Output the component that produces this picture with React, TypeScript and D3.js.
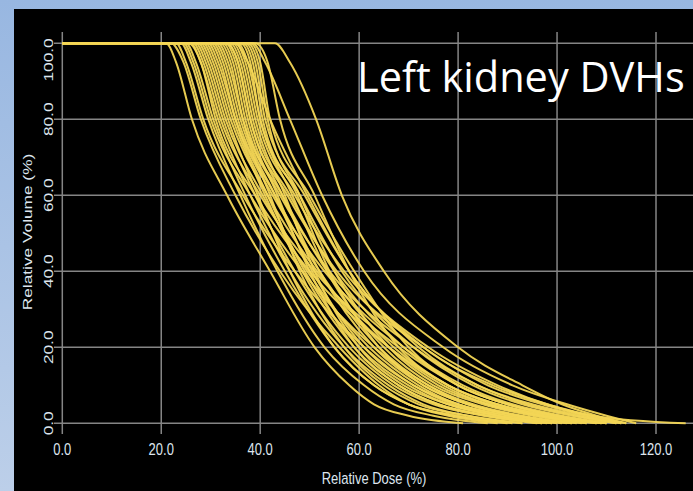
import { useMemo } from 'react';
import * as d3 from 'd3';

// Volume levels (%) at which each DVH curve's dose (%) was read
const VOLUME_LEVELS = [100, 95, 80, 60, 40, 20, 10, 5, 2, 0];

// One row per patient: relative dose (%) at each volume level above
const DOSE_CURVES: number[][] = [
  [21, 23, 26.2, 33.3, 42, 51, 58, 63, 70, 81],
  [22, 24.5, 28, 35, 44, 56, 64, 70, 78, 88],
  [23, 25, 28.5, 36.5, 47, 61, 71, 79, 88, 98],
  [24, 26, 29.5, 36, 43.5, 53, 61, 67, 75, 86],
  [24.5, 26.5, 30, 38, 48.5, 63, 74, 82, 92, 102],
  [25, 27, 30.5, 37, 45, 55, 63, 70, 79, 90],
  [25.5, 28, 31, 39, 50, 66, 78, 87, 97, 106],
  [26, 28, 31.5, 38, 46, 57, 66, 73, 82, 93],
  [26.5, 28.5, 32, 40, 51, 68, 80, 90, 100, 109],
  [27, 29, 32.5, 39, 47, 58, 67, 75, 85, 96],
  [27.5, 29.5, 33, 40.5, 49.5, 62, 72, 80, 90, 100],
  [28, 30, 33.5, 39.5, 46, 55, 63, 70, 80, 91],
  [28.5, 30.5, 34, 41.5, 51.5, 66, 77, 86, 96, 105],
  [29, 31, 34.5, 41, 48.5, 59, 68, 76, 86, 97],
  [29.5, 31.5, 35, 42.5, 53, 69, 81, 91, 101, 110],
  [30, 32, 35, 41.5, 49, 60, 70, 78, 88, 99],
  [30.5, 32.5, 35.5, 43, 52, 64, 74, 83, 93, 103],
  [31, 33, 36, 42, 48, 57, 65, 72, 82, 93],
  [31.5, 33.5, 36.5, 44, 54, 71, 84, 94, 104, 112],
  [32, 34, 36.5, 43, 50.5, 61, 71, 80, 90, 101],
  [32.5, 34.5, 37, 44.5, 53.5, 67, 78, 88, 98, 108],
  [33, 35, 37.5, 43.5, 50, 59, 68, 76, 86, 97],
  [33, 35.5, 38, 45.5, 55.5, 73, 86, 97, 106, 113],
  [33.5, 35.5, 38, 44.5, 52, 63, 73, 82, 92, 103],
  [34, 36, 38.5, 46, 55, 69, 80, 90, 100, 110],
  [34.5, 36.5, 39, 45, 51, 60, 69, 78, 88, 99],
  [35, 37, 39.5, 47, 57, 74, 88, 98, 107, 126],
  [35.5, 37.5, 40, 46.5, 53.5, 65, 75, 85, 95, 106],
  [36, 38, 40, 48, 56.5, 71, 83, 93, 103, 112],
  [36.5, 38.5, 40.5, 47.5, 54, 64, 73, 82, 92, 104],
  [37, 39, 41, 49, 58, 72, 84, 95, 105, 113],
  [37.5, 39.5, 41.5, 48, 55, 66, 76, 86, 97, 108],
  [38, 40, 42, 50, 59, 70, 80, 90, 100, 110],
  [39, 41.5, 44, 51, 58, 68, 78, 88, 99, 109],
  [35, 37.5, 42, 49.5, 58, 73, 87, 98, 107, 114],
  [38.5, 41, 46, 52.5, 61, 77, 91, 102, 110, 116],
  [43, 46, 51.3, 56.5, 65, 80, 93, 101, 108, 114],
];

const X_TICKS = [0, 20, 40, 60, 80, 100, 120];
const Y_TICKS = [0, 20, 40, 60, 80, 100];

const W = 693;
const H = 491;
const LINE_COLOR = '#f3d655';
const GRID_COLOR = '#858585';
const LABEL_COLOR = '#dde5ee';
const STRETCH = 1.33; // the source screenshot is stretched vertically

export default function App() {
  const x = d3.scaleLinear().domain([0, 120]).range([62.3, 656]);
  const y = d3.scaleLinear().domain([0, 100]).range([423.3, 43.3]);

  const line = d3.line<[number, number]>()
    .x(d => x(d[0]))
    .y(d => y(d[1]))
    .curve(d3.curveMonotoneX);

  const paths = useMemo(() =>
    DOSE_CURVES.map(doses => {
      const pts: [number, number][] = [[0, 100], ...doses.map((d, i) => [d, VOLUME_LEVELS[i]] as [number, number])];
      return line(pts) ?? '';
    }), []);

  const gridTop = 32;
  const gridBottom = 434;
  const gridLeft = 54;

  return (
    <svg width={W} height={H} style={{ position: 'fixed', top: 0, left: 0, display: 'block' }}
      fontFamily="'Liberation Sans', Arial, sans-serif">
      <defs>
        <linearGradient id="frame" x1="0" y1="0" x2="0" y2="1">
          <stop offset="0" stopColor="#98b7e1" />
          <stop offset="1" stopColor="#bccfe9" />
        </linearGradient>
      </defs>
      <rect x={0} y={0} width={W} height={H} fill="url(#frame)" />
      <rect x={14} y={9} width={W - 14} height={H - 9} fill="#000" />

      {/* grid */}
      {X_TICKS.map(t => (
        <line key={'gx' + t} x1={x(t)} x2={x(t)} y1={gridTop} y2={gridBottom}
          stroke={GRID_COLOR} strokeWidth={1.5} />
      ))}
      {Y_TICKS.map(t => (
        <line key={'gy' + t} x1={gridLeft} x2={W} y1={y(t)} y2={y(t)}
          stroke={GRID_COLOR} strokeWidth={1.5} />
      ))}

      {/* DVH curves */}
      <g fill="none" stroke={LINE_COLOR} strokeWidth={2} strokeOpacity={0.95}>
        {paths.map((p, i) => <path key={i} d={p} />)}
      </g>

      {/* x tick labels */}
      {X_TICKS.map(t => (
        <text key={'tx' + t} transform={`translate(${x(t)},455) scale(1,${STRETCH})`}
          textAnchor="middle" fontSize={13} fill={LABEL_COLOR}>{t.toFixed(1)}</text>
      ))}
      {/* y tick labels */}
      {Y_TICKS.map(t => {
        const top = t === 100;
        return (
          <text key={'ty' + t}
            transform={`translate(53,${top ? y(t) - 5 : y(t)}) rotate(-90) scale(${STRETCH},1)`}
            textAnchor={top ? 'end' : 'middle'} fontSize={13} fill={LABEL_COLOR}>{t.toFixed(1)}</text>
        );
      })}

      {/* axis titles */}
      <text transform={`translate(374,484) scale(1,${STRETCH})`} textAnchor="middle"
        fontSize={13} fill={LABEL_COLOR}>Relative Dose (%)</text>
      <text transform={`translate(31.5,232) rotate(-90) scale(${STRETCH},1)`} textAnchor="middle"
        fontSize={13} fill={LABEL_COLOR}>Relative Volume (%)</text>

      {/* slide title */}
      <text x={357} y={92} fontSize={41.5} fill="#fff"
        fontFamily="'Open Sans', 'Noto Sans', sans-serif">Left kidney DVHs</text>
    </svg>
  );
}
